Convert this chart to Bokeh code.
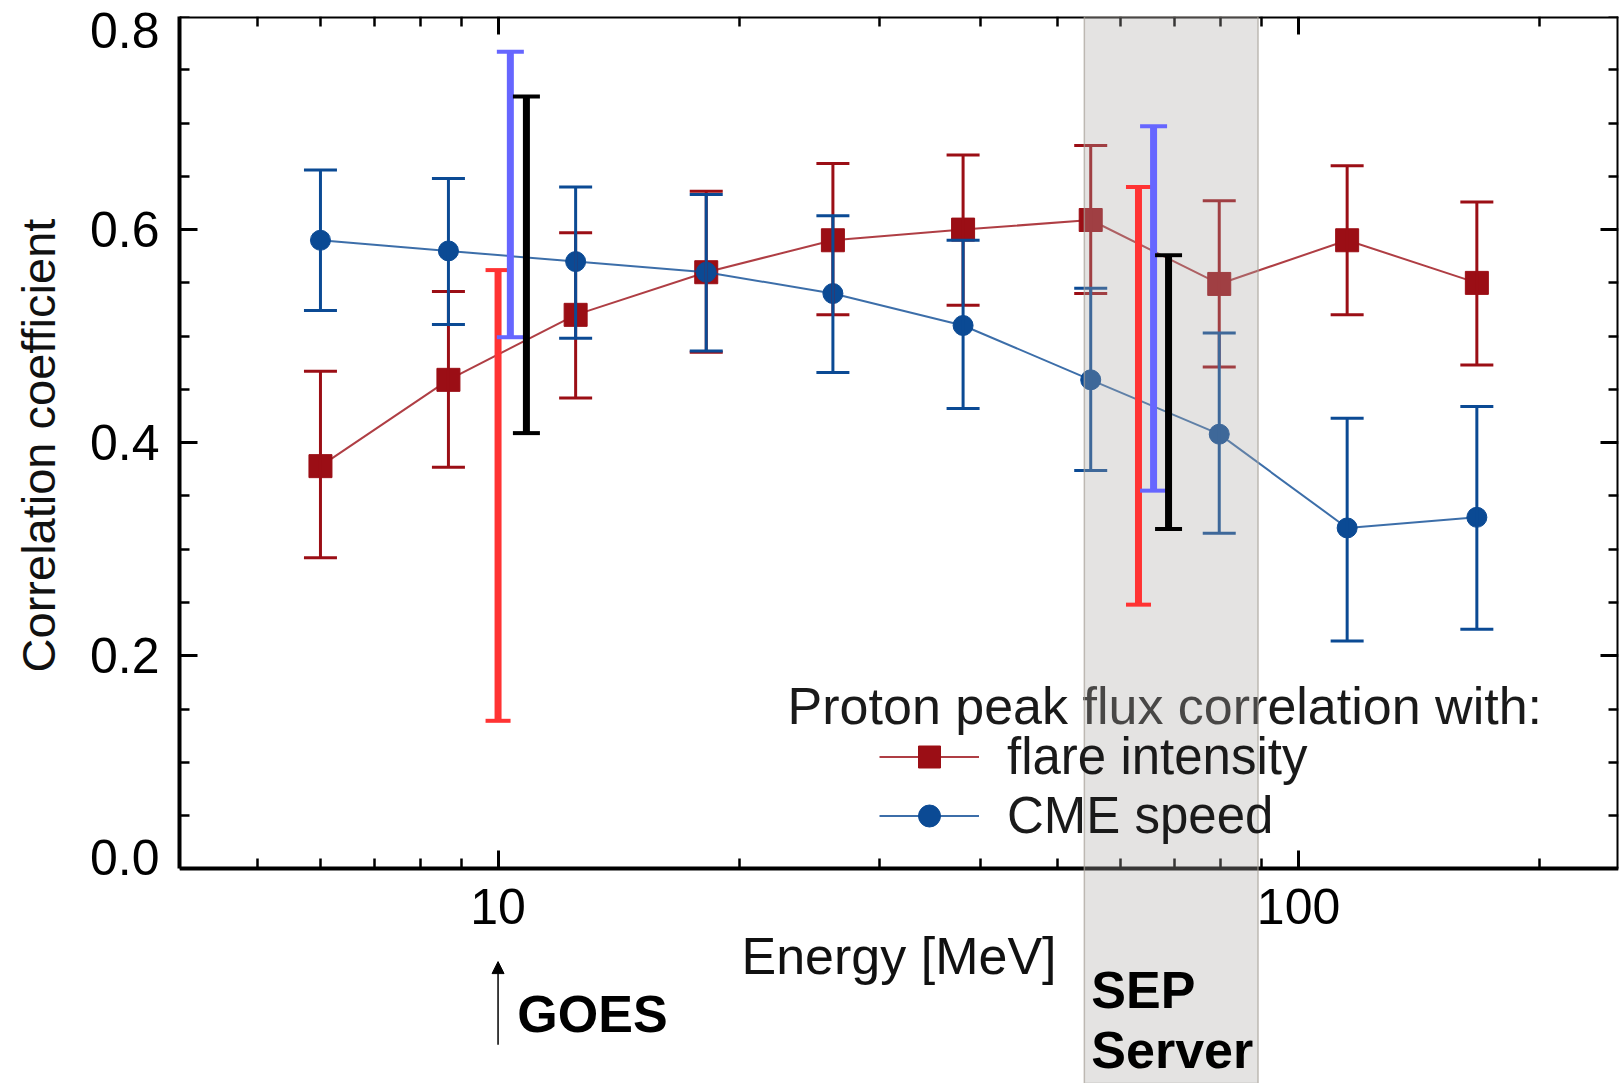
from bokeh.plotting import figure
from bokeh.models import (Range1d, LinearAxis, LogAxis, FixedTicker, PrintfTickFormatter,
                          CustomJSTickFormatter, Whisker, TeeHead, BoxAnnotation, Label,
                          Arrow, NormalHead, Legend, LegendItem, ColumnDataSource)
from bokeh.embed import file_html
from bokeh.resources import INLINE

# ---------------- data ----------------
energy = [6.0, 8.67, 12.5, 18.2, 26.2, 38.1, 55.0, 79.6, 115.0, 167.0]
flare_r = [0.378, 0.459, 0.52, 0.56, 0.59, 0.60, 0.609, 0.549, 0.59, 0.55]
flare_hi = [0.467, 0.542, 0.597, 0.636, 0.662, 0.670, 0.679, 0.627, 0.660, 0.626]
flare_lo = [0.292, 0.377, 0.442, 0.485, 0.520, 0.529, 0.540, 0.471, 0.520, 0.473]
cme_r = [0.59, 0.58, 0.57, 0.56, 0.54, 0.51, 0.459, 0.408, 0.32, 0.33]
cme_hi = [0.656, 0.648, 0.640, 0.633, 0.613, 0.590, 0.545, 0.503, 0.423, 0.434]
cme_lo = [0.524, 0.511, 0.498, 0.486, 0.466, 0.432, 0.374, 0.315, 0.214, 0.225]

# extra comparison ranges (GOES at ~10 MeV, SEP Server at ~65 MeV)
red_bar_x = [10.0, 63.1]
red_bar_hi = [0.562, 0.64]
red_bar_lo = [0.139, 0.248]
blue_bar_x = [10.36, 65.9]
blue_bar_hi = [0.767, 0.697]
blue_bar_lo = [0.499, 0.355]
black_bar_x = [10.85, 68.8]
black_bar_hi = [0.725, 0.576]
black_bar_lo = [0.409, 0.319]

sep_band = [54.0, 89.0]

x_major = [10, 100]
x_minor = [4, 5, 6, 7, 8, 9, 20, 30, 40, 50, 60, 70, 80, 90, 200]
y_major = [0.2, 0.4, 0.6]
# label anchors for 0.0 ... 0.8 (end labels nudged inward as in the original)
y_label_pos = [0.0103, 0.2, 0.4, 0.6, 0.787]
y_minor = [0.0, 0.05, 0.1, 0.15, 0.25, 0.3, 0.35, 0.45, 0.5, 0.55, 0.65, 0.7, 0.75, 0.8]

RED = "#9b0e15"
BLUE = "#0b4a94"
FONT = "Liberation Sans"

p = figure(width=1620, height=1083, x_axis_type="log",
           x_range=Range1d(4.0, 251.0), y_range=Range1d(-0.2014, 0.8),
           x_axis_location=None, y_axis_location=None,
           output_backend="svg", toolbar_location=None,
           min_border_left=179, min_border_right=2, min_border_top=16, min_border_bottom=0)
p.outline_line_color = None
p.background_fill_color = "white"
p.border_fill_color = "white"
p.grid.visible = False

xt = FixedTicker(ticks=x_major, minor_ticks=x_minor)
yt = FixedTicker(ticks=y_major, minor_ticks=y_minor)
blank = CustomJSTickFormatter(code="return ''")


def style(ax):
    ax.axis_line_width = 4
    ax.axis_line_color = "black"
    ax.major_tick_in = 18
    ax.major_tick_out = 0
    ax.minor_tick_in = 10
    ax.minor_tick_out = 0
    ax.major_tick_line_width = 3
    ax.minor_tick_line_width = 2.5
    ax.major_tick_line_color = "black"
    ax.minor_tick_line_color = "black"
    ax.major_label_text_font = FONT
    ax.major_label_text_font_size = "50px"
    ax.major_label_text_color = "black"
    ax.axis_label_text_font = FONT
    ax.axis_label_text_font_style = "normal"
    ax.axis_label_text_color = "#111111"


bottom = LogAxis(fixed_location=0.0, ticker=xt, formatter=PrintfTickFormatter(format="%d"),
                 axis_label="Energy [MeV]")
style(bottom)
bottom.major_label_standoff = 20
bottom.axis_label_text_font_size = "52px"
bottom.axis_label_standoff = 0
p.add_layout(bottom, "below")

top = LogAxis(fixed_location=0.8, ticker=xt, formatter=blank)
style(top)
p.add_layout(top, "above")

# left axis: line + labels + title (tick marks come from the inner axis below).
# The title is centred on the 0-0.8 span: leading no-break spaces compensate for the
# frame continuing below 0 (the SEP Server band runs to the bottom of the picture).
left = LinearAxis(bounds=(0.0, 0.8), ticker=FixedTicker(ticks=y_label_pos, minor_ticks=[]),
                  formatter=PrintfTickFormatter(format="%.1f"),
                  axis_label="\u00a0" * 16 + "Correlation coefficient")
style(left)
left.major_tick_in = 0
left.major_tick_line_alpha = 0
left.major_label_standoff = 20
left.axis_label_text_font_size = "47px"
left.axis_label_standoff = 22
p.add_layout(left, "left")

left_ticks = LinearAxis(fixed_location=4.0, bounds=(0.0, 0.8), ticker=yt, formatter=blank)
style(left_ticks)
left_ticks.axis_line_alpha = 0
p.add_layout(left_ticks, "left")

right = LinearAxis(fixed_location=251.0, bounds=(0.0, 0.8), ticker=yt, formatter=blank)
style(right)
p.add_layout(right, "right")

# ---------------- series ----------------
rl = p.line(energy, flare_r, line_color=RED, line_width=2, line_alpha=0.8)
rs = p.scatter(energy, flare_r, marker="square", size=23, color=RED)
bl = p.line(energy, cme_r, line_color=BLUE, line_width=2, line_alpha=0.8)
bs = p.scatter(energy, cme_r, marker="circle", size=20, color=BLUE)


def whisk(xs, hi, lo, color, lw, cap, cap_lw, level="annotation"):
    src = ColumnDataSource(dict(x=xs, hi=hi, lo=lo))
    w = Whisker(source=src, base="x", upper="hi", lower="lo", dimension="height",
                line_color=color, line_width=lw, level=level,
                upper_head=TeeHead(size=cap, line_color=color, line_width=cap_lw),
                lower_head=TeeHead(size=cap, line_color=color, line_width=cap_lw))
    p.add_layout(w)
    return w


whisk(energy, flare_hi, flare_lo, RED, 3, 33, 3)
whisk(energy, cme_hi, cme_lo, BLUE, 3, 33, 3)

# SEP Server band (drawn over the data, semi-transparent)
band = BoxAnnotation(left=sep_band[0], right=sep_band[1], fill_color="#aba9a5", fill_alpha=0.32,
                     line_color="#a8a39a", line_alpha=0.7, line_width=1.5, level="overlay")
p.add_layout(band)

# comparison ranges on top
whisk(red_bar_x, red_bar_hi, red_bar_lo, "#ff3333", 7, 25, 4, level="overlay")
whisk(blue_bar_x, blue_bar_hi, blue_bar_lo, "#6666ff", 7, 27, 4, level="overlay")
whisk(black_bar_x, black_bar_hi, black_bar_lo, "black", 7, 27, 4, level="overlay")

# legend
legend = Legend(items=[LegendItem(label="flare intensity", renderers=[rl, rs]),
                       LegendItem(label="CME speed", renderers=[bl, bs])],
                location=(700, 238), glyph_width=100, glyph_height=55, label_standoff=28,
                padding=0, margin=0, spacing=0, border_line_alpha=0, background_fill_alpha=0,
                label_text_font=FONT, label_text_font_size="51px", label_text_color="#1a1a1a",
                label_height=55)
p.add_layout(legend)

p.add_layout(Label(x=23.0, y=0.1525, text="Proton peak flux correlation with:",
                   text_font=FONT, text_font_size="52px", text_color="#1a1a1a",
                   text_baseline="alphabetic"))

# annotations below the axis
p.add_layout(Arrow(x_start=10.0, y_start=-0.165, x_end=10.0, y_end=-0.087,
                   line_color="black", line_width=1.5,
                   end=NormalHead(size=12, fill_color="black", line_color="black")))
p.add_layout(Label(x=10.57, y=-0.1366, text="GOES", text_font=FONT, text_font_size="52px",
                   text_font_style="bold", text_color="black", text_baseline="alphabetic"))
p.add_layout(Label(x=55.1, y=-0.114, text="SEP", text_font=FONT, text_font_size="52px",
                   text_font_style="bold", text_color="black", text_baseline="alphabetic",
                   level="overlay"))
p.add_layout(Label(x=55.1, y=-0.1704, text="Server", text_font=FONT, text_font_size="52px",
                   text_font_style="bold", text_color="black", text_baseline="alphabetic",
                   level="overlay"))

open("out.html", "w").write(file_html(p, INLINE))
